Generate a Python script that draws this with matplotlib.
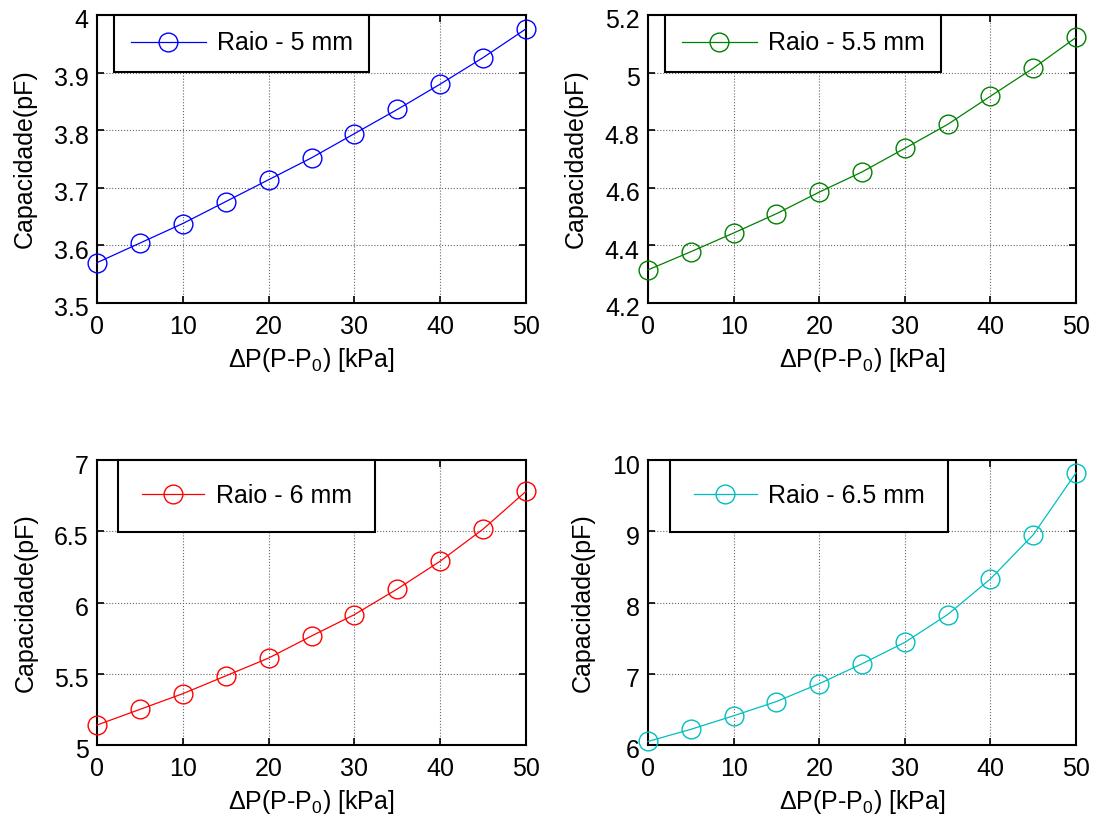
import matplotlib
matplotlib.use("Agg")
import matplotlib.pyplot as plt
from matplotlib.ticker import FuncFormatter
from matplotlib.transforms import ScaledTranslation

plt.rcParams['font.family'] = ['Liberation Sans', 'DejaVu Sans']
plt.rcParams['mathtext.fontset'] = 'custom'
plt.rcParams['mathtext.rm'] = 'Liberation Sans'
plt.rcParams['mathtext.it'] = 'Liberation Sans:italic'
plt.rcParams['mathtext.default'] = 'regular'

pressure = [0, 5, 10, 15, 20, 25, 30, 35, 40, 45, 50]
cap_r5 = [3.570, 3.604, 3.638, 3.676, 3.714, 3.752, 3.794, 3.836, 3.880, 3.926, 3.976]
cap_r55 = [4.315, 4.378, 4.443, 4.510, 4.585, 4.655, 4.737, 4.820, 4.918, 5.015, 5.122]
cap_r6 = [5.14, 5.25, 5.36, 5.485, 5.61, 5.765, 5.915, 6.095, 6.29, 6.515, 6.78]
cap_r65 = [6.05, 6.22, 6.41, 6.61, 6.86, 7.14, 7.44, 7.83, 8.33, 8.95, 9.82]

labels = ['Raio - 5 mm', 'Raio - 5.5 mm', 'Raio - 6 mm', 'Raio - 6.5 mm']
series = [cap_r5, cap_r55, cap_r6, cap_r65]
colors = [(0, 0, 1), (0, 0.5, 0), (1, 0, 0), (0, 0.75, 0.75)]
ylims = [(3.5, 4.0), (4.2, 5.2), (5, 7), (6, 10)]
yticks = [[3.5, 3.6, 3.7, 3.8, 3.9, 4.0],
          [4.2, 4.4, 4.6, 4.8, 5.0, 5.2],
          [5, 5.5, 6, 6.5, 7],
          [6, 7, 8, 9, 10]]
xticks = [0, 10, 20, 30, 40, 50]

W, H = 1095, 827
fig = plt.figure(figsize=(W / 100, H / 100), dpi=100)

boxes = [(97, 15, 526, 303), (648, 15, 1076, 303),
         (97, 460, 526, 745), (648, 460, 1076, 745)]
leg_x = [0.040, 0.040, 0.049, 0.052]
leg_bp = [0.66, 0.66, 0.95, 0.95]
leg_hl = [3.0, 3.0, 2.5, 2.5]

down = ScaledTranslation(0, -4 / 100, fig.dpi_scale_trans)

for i in range(4):
    x0, y0, x1, y1 = boxes[i]
    ax = fig.add_axes([x0 / W, 1 - y1 / H, (x1 - x0) / W, (y1 - y0) / H])
    ax.plot(pressure, series[i], '-o', color=colors[i], lw=0.9,
            markersize=13.5, markerfacecolor='none', markeredgewidth=1.0,
            clip_on=False, label=labels[i], zorder=3)
    ax.set_xlim(0, 50)
    ax.set_ylim(*ylims[i])
    ax.set_xticks(xticks)
    ax.set_yticks(yticks[i])
    ax.yaxis.set_major_formatter(FuncFormatter(lambda v, p: '%g' % round(v, 3)))
    ax.grid(True, linestyle=':', color='#666666', linewidth=0.8)
    ax.tick_params(direction='in', top=True, right=True, length=5, width=1.2,
                   labelsize=18)
    ax.tick_params(axis='x', pad=9)
    ax.tick_params(axis='y', pad=6)
    for lab in ax.get_yticklabels():
        lab.set_transform(lab.get_transform() + down)
    for s in ax.spines.values():
        s.set_linewidth(1.5)
    ax.set_xlabel(r'ΔP(P-P$_{0}$) [kPa]', fontsize=18, labelpad=5)
    ax.set_ylabel('Capacidade(pF)', fontsize=18, labelpad=12)
    leg = ax.legend(loc='upper left', bbox_to_anchor=(leg_x[i], 1.0),
                    borderaxespad=0, fontsize=18, fancybox=False,
                    edgecolor='black', framealpha=1, borderpad=leg_bp[i],
                    handlelength=leg_hl[i], handletextpad=0.45)
    leg.get_frame().set_linewidth(1.5)

fig.savefig('out.png', dpi=100)
